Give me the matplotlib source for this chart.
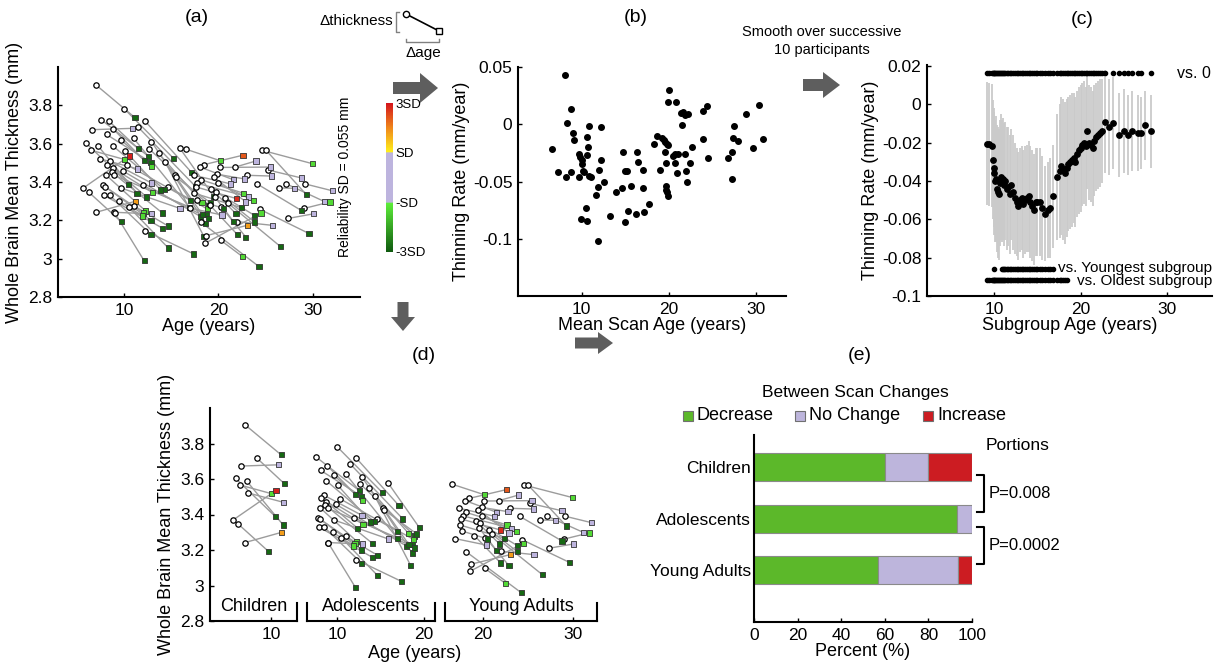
import matplotlib
matplotlib.use('Agg')
import matplotlib.pyplot as plt
import numpy as np
from matplotlib.colors import LinearSegmentedColormap, Normalize
from matplotlib.colorbar import ColorbarBase
from matplotlib.patches import FancyArrow, Rectangle

plt.rcParams['font.family'] = ['Liberation Sans', 'DejaVu Sans']

# scan pairs: (age scan 1, thickness scan 1, age scan 2, thickness scan 2, change in SD units)
children = [
    (7.01, 3.907, 11.15, 3.736, -2.8),
    (8.43, 3.716, 11.53, 3.573, -2.8),
    (6.63, 3.673, 10.88, 3.680, 0),
    (5.98, 3.603, 10.50, 3.388, -2.8),
    (7.28, 3.586, 11.38, 3.341, -2.8),
    (6.48, 3.566, 10.08, 3.517, -1.3),
    (7.43, 3.521, 11.46, 3.468, 0),
    (5.63, 3.367, 10.57, 3.536, 2.9),
    (6.28, 3.346, 9.69, 3.193, -2.8),
    (7.05, 3.242, 11.23, 3.300, 1.8),
]
adolescents = [
    (10.00, 3.783, 15.25, 3.523, -2.8),
    (7.57, 3.725, 12.59, 3.534, -2.8),
    (8.86, 3.676, 12.13, 3.513, -2.8),
    (12.20, 3.719, 17.15, 3.450, -2.8),
    (11.50, 3.686, 17.60, 3.375, -2.8),
    (8.14, 3.648, 12.85, 3.502, -2.8),
    (9.66, 3.620, 12.93, 3.480, -1.3),
    (11.00, 3.629, 16.96, 3.266, -2.8),
    (12.90, 3.611, 18.67, 3.183, -2.8),
    (8.78, 3.590, 14.26, 3.361, -2.8),
    (10.10, 3.564, 13.88, 3.358, -2.8),
    (12.66, 3.573, 18.97, 3.279, -2.8),
    (13.65, 3.550, 18.25, 3.294, -1.3),
    (8.52, 3.508, 12.89, 3.395, 0),
    (8.21, 3.491, 13.00, 3.345, -1.3),
    (8.78, 3.472, 12.40, 3.322, -2.8),
    (10.34, 3.489, 17.00, 3.305, -2.8),
    (8.67, 3.453, 14.07, 3.238, -2.8),
    (9.89, 3.457, 18.06, 3.221, -2.8),
    (8.10, 3.436, 12.28, 3.249, -1.3),
    (8.94, 3.435, 18.75, 3.232, -2.8),
    (7.80, 3.382, 12.09, 3.238, -1.3),
    (8.02, 3.375, 12.85, 3.200, -2.8),
    (9.66, 3.369, 15.93, 3.262, 0),
    (12.00, 3.382, 18.97, 3.211, -2.8),
    (7.90, 3.330, 14.07, 3.159, -2.8),
    (11.00, 3.277, 14.68, 3.170, -2.8),
    (8.97, 3.242, 12.93, 3.234, 0),
    (12.20, 3.146, 17.40, 3.024, -2.8),
    (15.93, 3.575, 19.50, 3.326, -2.8),
    (14.37, 3.504, 18.48, 3.114, -2.8),
    (15.36, 3.435, 18.30, 3.230, -2.8),
    (15.48, 3.425, 19.20, 3.290, -2.8),
    (14.64, 3.375, 18.80, 3.260, -1.3),
    (9.50, 3.300, 11.94, 3.223, -1.3),
    (8.50, 3.330, 12.85, 3.125, -2.8),
    (9.00, 3.240, 12.13, 2.989, -2.8),
    (10.50, 3.270, 14.68, 3.056, -2.8),
]
young_adults = [
    (16.57, 3.571, 20.19, 3.511, -1.3),
    (18.51, 3.491, 22.61, 3.540, 2.4),
    (18.06, 3.478, 21.57, 3.412, 0),
    (21.79, 3.478, 23.99, 3.510, 0),
    (20.19, 3.476, 25.48, 3.478, 0),
    (19.90, 3.440, 22.80, 3.416, 0),
    (17.39, 3.435, 21.31, 3.390, 0),
    (18.13, 3.412, 22.69, 3.341, -1.3),
    (17.76, 3.393, 23.21, 3.322, 0),
    (17.57, 3.375, 21.94, 3.313, 2.8),
    (17.46, 3.341, 22.43, 3.266, -2.8),
    (19.51, 3.425, 22.91, 3.296, 0),
    (19.93, 3.393, 23.73, 3.303, -1.3),
    (19.25, 3.363, 21.87, 3.234, -2.8),
    (19.70, 3.350, 23.84, 3.225, -2.8),
    (22.99, 3.435, 25.60, 3.431, 0),
    (20.67, 3.315, 23.84, 3.191, -2.8),
    (19.63, 3.322, 21.57, 3.195, -2.8),
    (17.69, 3.307, 20.56, 3.262, -2.8),
    (16.94, 3.264, 20.37, 3.228, 0),
    (19.07, 3.281, 21.98, 3.127, -2.8),
    (20.30, 3.270, 22.91, 3.112, -2.8),
    (22.01, 3.193, 25.70, 3.174, 0),
    (18.13, 3.191, 24.29, 2.959, -2.8),
    (18.69, 3.120, 23.06, 3.174, 1.8),
    (18.58, 3.080, 24.50, 3.238, -1.3),
    (20.22, 3.097, 22.54, 3.011, -1.3),
    (24.59, 3.566, 30.00, 3.495, -1.3),
    (25.04, 3.566, 29.30, 3.335, -2.8),
    (25.22, 3.463, 28.80, 3.421, 0),
    (24.10, 3.390, 28.80, 3.251, -2.8),
    (26.38, 3.369, 28.10, 3.367, 0),
    (27.16, 3.391, 31.23, 3.298, 0),
    (29.18, 3.390, 32.09, 3.354, 0),
    (29.07, 3.262, 31.83, 3.296, -1.3),
    (24.37, 3.258, 29.60, 3.131, -2.8),
    (21.00, 3.290, 26.60, 3.062, -2.8),
    (27.39, 3.210, 30.07, 3.234, 0),
]

# panel (b): mean scan age vs thinning rate
b_age = [8.06, 6.55, 7.25, 8.37, 8.18, 8.8, 8.99, 9.15, 8.76, 9.65, 9.84, 10.0, 10.0, 9.65,
         10.1, 10.3, 9.88, 10.8, 10.6, 10.7, 10.66, 10.8, 11.05, 10.5, 10.66, 11.86, 11.6,
         11.9, 12.0, 12.2, 12.5, 12.2, 13.2, 13.95, 14.65, 14.7, 15.0, 15.2, 14.9, 15.3,
         15.7, 16.36, 16.5, 16.16, 17.0, 17.1, 17.05, 17.75, 18.3, 18.57, 19.0, 19.2, 19.4,
         19.57, 19.73, 19.9, 20.0, 19.9, 19.5, 19.6, 19.7, 19.7, 19.77, 19.9, 20.85, 20.5,
         20.7, 21.0, 20.97, 20.66, 21.4, 21.55, 21.5, 21.8, 22.2, 21.78, 22.0, 22.1, 22.4,
         22.67, 23.9, 23.9, 24.4, 24.5, 26.7, 27.25, 27.3, 27.5, 27.25, 27.9, 28.8, 30.3,
         29.6, 30.75]
b_rate = [0.043, -0.0215, -0.042, 0.001, -0.046, 0.013, -0.0076, -0.0137, -0.0416, -0.026,
          -0.029, -0.031, -0.035, -0.0465, -0.0407, -0.042, -0.083, -0.0017, -0.011, -0.020,
          -0.027, -0.045, -0.046, -0.073, -0.0846, -0.102, -0.062, -0.0547, -0.040, -0.031,
          -0.050, -0.002, -0.080, -0.059, -0.0555, -0.024, -0.041, -0.0407, -0.085, -0.0756,
          -0.0538, -0.024, -0.033, -0.078, -0.040, -0.0765, -0.056, -0.070, -0.0174, -0.0105,
          -0.040, -0.0122, -0.014, -0.0154, -0.017, -0.018, 0.0297, 0.0195, -0.024, -0.034,
          -0.054, -0.057, -0.0596, -0.063, 0.0195, -0.028, -0.026, -0.0256, -0.043, -0.034,
          0.0096, 0.0108, -0.0006, 0.008, 0.0087, -0.0256, -0.041, -0.050, -0.034, -0.0198,
          -0.0125, 0.0113, 0.0157, -0.0297, -0.0297, -0.024, -0.0116, -0.0017, -0.048,
          -0.0145, 0.0088, 0.0167, -0.0204, -0.0129]

# panel (c): subgroup (10 successive participants) mean age, mean rate, error half-width
c_age = [9.15, 9.45, 9.75, 9.85, 9.95, 10.05, 10.15, 10.25, 10.35, 10.45, 10.55, 10.65, 10.75,
         10.9, 11.0, 11.15, 11.3, 11.45, 11.6, 11.8, 12.0, 12.2, 12.4, 12.6, 12.8, 13.0, 13.2,
         13.4, 13.6, 13.8, 14.0, 14.2, 14.4, 14.6, 14.8, 15.0, 15.3, 15.6, 15.9, 16.2, 16.5,
         16.8, 17.3, 17.6, 17.8, 18.0, 18.2, 18.4, 18.6, 18.8, 19.0, 19.2, 19.4, 19.6, 19.8,
         20.0, 20.2, 20.4, 20.6, 20.8, 21.0, 21.2, 21.4, 21.6, 21.8, 22.0, 22.2, 22.5, 22.8,
         23.3, 23.8, 24.4, 25.0, 25.5, 26.0, 26.6, 27.0, 27.5, 28.2]
c_rate = [-0.0206, -0.0208, -0.0215, -0.029, -0.033, -0.036, -0.040, -0.039, -0.044, -0.046,
          -0.047, -0.041, -0.038, -0.040, -0.039, -0.042, -0.040, -0.044, -0.043, -0.047,
          -0.042, -0.046, -0.049, -0.051, -0.053, -0.050, -0.049, -0.052, -0.050, -0.049,
          -0.048, -0.051, -0.053, -0.055, -0.051, -0.051, -0.051, -0.054, -0.057, -0.055,
          -0.054, -0.048, -0.038, -0.035, -0.032, -0.034, -0.036, -0.033, -0.031, -0.030,
          -0.029, -0.028, -0.030, -0.026, -0.024, -0.023, -0.021, -0.020, -0.022, -0.014,
          -0.020, -0.021, -0.023, -0.019, -0.017, -0.016, -0.015, -0.014, -0.009, -0.012,
          -0.010, -0.016, -0.014, -0.016, -0.014, -0.015, -0.015, -0.011, -0.014]
c_err = [0.032, 0.032, 0.032, 0.031, 0.031, 0.032, 0.032, 0.033, 0.033, 0.034, 0.034, 0.033,
         0.033, 0.032, 0.032, 0.032, 0.031, 0.032, 0.031, 0.031, 0.029, 0.030, 0.029, 0.028,
         0.028, 0.027, 0.027, 0.028, 0.028, 0.028, 0.029, 0.029, 0.029, 0.029, 0.028, 0.028,
         0.028, 0.027, 0.025, 0.025, 0.026, 0.027, 0.033, 0.035, 0.036, 0.037, 0.037, 0.036,
         0.035, 0.035, 0.035, 0.034, 0.034, 0.033, 0.033, 0.033, 0.032, 0.032, 0.031, 0.030,
         0.030, 0.030, 0.030, 0.029, 0.028, 0.028, 0.028, 0.027, 0.027, 0.025, 0.024, 0.022,
         0.022, 0.021, 0.021, 0.020, 0.019, 0.018, 0.019]
# age ranges of subgroups that differ significantly
sig_vs_zero = [(9.0, 22.9), (23.7, 27.1), (28.1, 28.3)]
sig_vs_youngest = [(10.0, 10.1), (10.85, 16.9)]
sig_vs_oldest = [(9.0, 18.5)]

# panel (e)
bar_groups = ['Children', 'Adolescents', 'Young Adults']
pct_decrease = [60, 93, 57]
pct_nochange = [20, 7, 36.5]
pct_increase = [20, 0, 6.5]

W, H = 1231, 671
fig = plt.figure(figsize=(W / 100, H / 100), dpi=100)


def px_axes(x0, y0, x1, y1, **kw):
    return fig.add_axes([x0 / W, 1 - y1 / H, (x1 - x0) / W, (y1 - y0) / H], **kw)


def matlab_style(ax):
    for s in ['top', 'right']:
        ax.spines[s].set_visible(False)
    for s in ['left', 'bottom']:
        ax.spines[s].set_linewidth(1.5)
    ax.tick_params(direction='in', length=3, width=1, labelsize=12.5, pad=4)


cmap = LinearSegmentedColormap.from_list('rel', [
    (0, '#0f5a0f'), (0.332, '#5ef03a'), (0.334, '#bdb4de'), (0.666, '#bdb4de'),
    (0.668, '#fff21a'), (0.83, '#f08a1a'), (1, '#d4141c')])
norm = Normalize(-3, 3)


def draw_pairs(ax, pairs):
    for a1, t1, a2, t2, z in pairs:
        ax.plot([a1, a2], [t1, t2], color='#9c9c9c', lw=1, zorder=1)
    ax.scatter([p[0] for p in pairs], [p[1] for p in pairs], s=15, facecolors='white',
               edgecolors='black', linewidths=0.9, zorder=3)
    ax.scatter([p[2] for p in pairs], [p[3] for p in pairs], s=14, marker='s',
               c=[p[4] for p in pairs], cmap=cmap, norm=norm, edgecolors='#333333',
               linewidths=0.6, zorder=3)


thick_ticks = [2.8, 3.0, 3.2, 3.4, 3.6, 3.8]
thick_labels = ['2.8', '3', '3.2', '3.4', '3.6', '3.8']

# ---- (a)
ax_a = px_axes(58, 67, 360, 297)
matlab_style(ax_a)
for grp in (children, adolescents, young_adults):
    draw_pairs(ax_a, grp)
ax_a.set_xlim(3, 35)
ax_a.set_ylim(2.8, 4.0)
ax_a.set_xticks([10, 20, 30])
ax_a.set_yticks(thick_ticks)
ax_a.set_yticklabels(thick_labels)
ax_a.set_xlabel('Age (years)', fontsize=13, labelpad=0)
ax_a.set_ylabel('Whole Brain Mean Thickness (mm)', fontsize=13, labelpad=4)

cax = px_axes(386, 103, 393, 252)
cb = ColorbarBase(cax, cmap=cmap, norm=norm, orientation='vertical')
cb.outline.set_visible(False)
cb.set_ticks([3, 1, -1, -3])
cb.set_ticklabels(['3SD', 'SD', '-SD', '-3SD'])
cax.tick_params(length=0, labelsize=9.5, pad=2)

# ---- (b)
ax_b = px_axes(518, 67, 786, 296)
matlab_style(ax_b)
ax_b.scatter(b_age, b_rate, s=16, color='black', zorder=3)
ax_b.set_xlim(2.7, 33.4)
ax_b.set_ylim(-0.15, 0.05)
ax_b.set_xticks([10, 20, 30])
ax_b.set_yticks([-0.1, -0.05, 0, 0.05])
ax_b.set_yticklabels(['-0.1', '-0.05', '0', '0.05'])
ax_b.set_xlabel('Mean Scan Age (years)', fontsize=13, labelpad=0)
ax_b.set_ylabel('Thinning Rate (mm/year)', fontsize=13, labelpad=2)

# ---- (c)
ax_c = px_axes(927, 65, 1212, 296)
matlab_style(ax_c)
c_age_arr = np.array(c_age)
c_rate_arr = np.array(c_rate)
c_err_arr = np.array(c_err)
ax_c.vlines(c_age_arr, c_rate_arr - c_err_arr, c_rate_arr + c_err_arr, color='#cacaca',
            lw=1.3, zorder=1)
ax_c.scatter(c_age_arr, c_rate_arr, s=15, color='black', zorder=3)


def in_ranges(ages, ranges):
    return np.array([any(lo <= a <= hi for lo, hi in ranges) for a in ages])


for ranges, yv in ((sig_vs_zero, 0.0162), (sig_vs_youngest, -0.0858), (sig_vs_oldest, -0.0916)):
    m = in_ranges(c_age_arr, ranges)
    ax_c.plot(c_age_arr[m], np.full(m.sum(), yv), ls='none', marker='o', ms=3.0,
              color='black', clip_on=False, zorder=3)
ax_c.text(31.2, 0.0162, 'vs. 0', fontsize=11.5, ha='left', va='center')
ax_c.text(17.4, -0.0852, 'vs. Youngest subgroup', fontsize=11, ha='left', va='center')
ax_c.text(19.6, -0.0922, 'vs. Oldest subgroup', fontsize=11, ha='left', va='center')
ax_c.set_xlim(2.25, 35.2)
ax_c.set_ylim(-0.1, 0.0205)
ax_c.set_xticks([10, 20, 30])
ax_c.set_yticks([-0.1, -0.08, -0.06, -0.04, -0.02, 0, 0.02])
ax_c.set_yticklabels(['-0.1', '-0.08', '-0.06', '-0.04', '-0.02', '0', '0.02'])
ax_c.set_xlabel('Subgroup Age (years)', fontsize=13, labelpad=0)
ax_c.set_ylabel('Thinning Rate (mm/year)', fontsize=13, labelpad=2)

# ---- (d)
d_specs = [
    (children, 'Children', (210, 297), (3.07, 12.95), [10], False, True),
    (adolescents, 'Adolescents', (307, 435), (6.55, 21.3), [10, 20], True, True),
    (young_adults, 'Young Adults', (445, 597), (15.8, 32.7), [20, 30], True, True),
]
d_axes = []
for i, (grp, name, (x0, x1), xl, xt, left_end, right_end) in enumerate(d_specs):
    ax = px_axes(x0, 408, x1, 621)
    matlab_style(ax)
    draw_pairs(ax, grp)
    ax.set_xlim(*xl)
    ax.set_ylim(2.8, 4.0)
    ax.set_xticks(xt)
    if i == 0:
        ax.set_yticks(thick_ticks)
        ax.set_yticklabels(thick_labels)
    else:
        ax.spines['left'].set_visible(False)
        ax.set_yticks([])
    if left_end:
        ax.plot([0, 0], [0, 0.085], transform=ax.transAxes, color='black', lw=1.5,
                clip_on=False)
    if right_end:
        ax.plot([1, 1], [0, 0.085], transform=ax.transAxes, color='black', lw=1.5,
                clip_on=False)
    ax.text(0.5, 0.068, name, transform=ax.transAxes, ha='center', va='center',
            fontsize=13)
    d_axes.append(ax)
d_axes[0].set_ylabel('Whole Brain Mean Thickness (mm)', fontsize=13, labelpad=4)

# ---- (e)
ax_e = px_axes(754, 435, 972, 622)
matlab_style(ax_e)
ypos = np.arange(1, len(bar_groups) + 1)
dec = np.array(pct_decrease)
noc = np.array(pct_nochange)
inc = np.array(pct_increase)
bh = 0.54
ax_e.barh(ypos, dec, height=bh, color='#5cb82a', edgecolor='#8a8a8a', lw=0.8)
ax_e.barh(ypos, noc, left=dec, height=bh, color='#bdb5dc', edgecolor='#8a8a8a', lw=0.8)
ax_e.barh(ypos, inc, left=dec + noc, height=bh, color='#cc1c22', edgecolor='#8a8a8a', lw=0.8)
ax_e.set_xlim(0, 100)
ax_e.set_ylim(4.0, 0.385)
ax_e.set_xticks([0, 20, 40, 60, 80, 100])
ax_e.set_yticks(ypos)
ax_e.set_yticklabels(bar_groups)
ax_e.tick_params(axis='y', length=0, pad=2)
ax_e.set_xlabel('Percent (%)', fontsize=13, labelpad=0)

# ---- overlay: panel labels, arrows, annotations
ax0 = fig.add_axes([0, 0, 1, 1], zorder=10)
ax0.set_xlim(0, W)
ax0.set_ylim(H, 0)
ax0.axis('off')

for lab, (x, y) in {'(a)': (197, 18), '(b)': (636, 18), '(c)': (1082, 20),
                    '(d)': (424, 355), '(e)': (860, 355)}.items():
    ax0.text(x, y, lab, fontsize=14, ha='center', va='center')

ax0.text(415, 653, 'Age (years)', fontsize=13, ha='center', va='center')

arrow_kw = dict(length_includes_head=True, color='#5e5e5e', lw=0)
ax0.add_patch(FancyArrow(393, 88, 45, 0, width=12, head_width=30, head_length=18, **arrow_kw))
ax0.add_patch(FancyArrow(803, 85, 37, 0, width=12, head_width=26, head_length=17, **arrow_kw))
ax0.add_patch(FancyArrow(403, 302, 0, 29, width=11, head_width=24, head_length=14, **arrow_kw))
ax0.add_patch(FancyArrow(575, 343, 38, 0, width=11, head_width=22, head_length=15, **arrow_kw))

# thickness / age sketch
ax0.text(393, 21, '\u0394thickness', fontsize=11, ha='right', va='center')
ax0.plot([399, 396, 396, 399], [12, 12, 32, 32], color='#808080', lw=1)
ax0.plot([406, 439], [14, 31], color='black', lw=1.2)
ax0.plot([406], [14], marker='o', ms=4.5, mfc='white', mec='black', mew=1)
ax0.plot([439], [31], marker='s', ms=4.5, mfc='white', mec='black', mew=1)
ax0.plot([406, 406, 439, 439], [39, 42, 42, 39], color='#808080', lw=1)
ax0.text(423, 53, '\u0394age', fontsize=11, ha='center', va='center')

ax0.text(822, 32, 'Smooth over successive', fontsize=10.5, ha='center', va='center')
ax0.text(822, 50, '10 participants', fontsize=10.5, ha='center', va='center')

ax0.text(345, 177, 'Reliability SD = 0.055 mm', fontsize=10, rotation=90,
         ha='center', va='center')

# panel (e) legend and p-values
ax0.text(855, 392, 'Between Scan Changes', fontsize=12.5, ha='center', va='center')
for x, col, lab in ((688, '#5cb82a', 'Decrease'), (800, '#bdb5dc', 'No Change'),
                    (928, '#cc1c22', 'Increase')):
    ax0.add_patch(Rectangle((x - 5, 411), 10, 10, facecolor=col, edgecolor='#707070', lw=0.8))
    ax0.text(x + 9, 416, lab, fontsize=13, ha='left', va='center')
ax0.text(1018, 446, 'Portions', fontsize=12.5, ha='center', va='center')
for y0, y1, p in ((475, 512, 'P=0.008'), (527, 564, 'P=0.0002')):
    ax0.plot([977, 984, 984, 977], [y0, y0, y1, y1], color='black', lw=1.5)
    ax0.text(989, (y0 + y1) / 2, p, fontsize=12, ha='left', va='center')

fig.savefig('out.png', dpi=100)
